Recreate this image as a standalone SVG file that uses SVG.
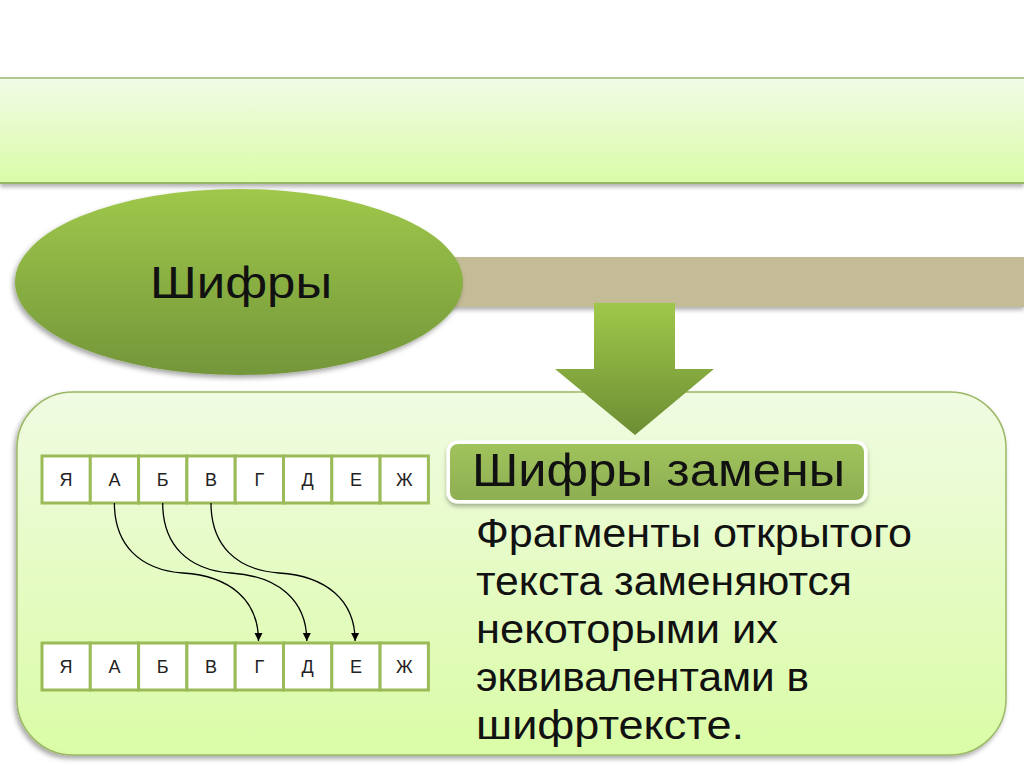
<svg xmlns="http://www.w3.org/2000/svg" width="1024" height="767" viewBox="0 0 1024 767">
<defs>
<linearGradient id="bandG" x1="0" y1="0" x2="0" y2="1"><stop offset="0" stop-color="#f2fbe7"/><stop offset="1" stop-color="#d9fca6"/></linearGradient>
<linearGradient id="panelG" x1="0" y1="0" x2="0" y2="1"><stop offset="0" stop-color="#f0fbe2"/><stop offset="1" stop-color="#dafca6"/></linearGradient>
<linearGradient id="greenG" x1="0" y1="0" x2="0" y2="1"><stop offset="0" stop-color="#9fc84b"/><stop offset="1" stop-color="#74963a"/></linearGradient>
<linearGradient id="arrowG" x1="0" y1="0" x2="0" y2="1"><stop offset="0" stop-color="#9fc84a"/><stop offset="1" stop-color="#6d8d34"/></linearGradient>
<linearGradient id="titleG" x1="0" y1="0" x2="0" y2="1"><stop offset="0" stop-color="#a0c35c"/><stop offset="1" stop-color="#8eae52"/></linearGradient>
<filter id="sh" x="-10%" y="-10%" width="125%" height="130%"><feDropShadow dx="-2" dy="3" stdDeviation="2.5" flood-color="#000" flood-opacity="0.35"/></filter>
<filter id="sh2" x="-10%" y="-20%" width="120%" height="150%"><feDropShadow dx="0" dy="3" stdDeviation="2" flood-color="#000" flood-opacity="0.3"/></filter>
<marker id="ah" markerWidth="8" markerHeight="10" refX="8" refY="5" orient="auto" markerUnits="userSpaceOnUse"><path d="M0,1 L8,5 L0,9 Z" fill="#000"/></marker>
<style>
.cell{fill:#fff;stroke:#9bbb59;stroke-width:3}
.lt{font-family:"Liberation Sans",Arial,sans-serif;font-size:18px;fill:#222;text-anchor:middle}
.body{font-family:"Liberation Sans",Arial,sans-serif;font-size:40px;fill:#111}
.con{fill:none;stroke:#000;stroke-width:1.3}
</style>
</defs>
<rect width="1024" height="767" fill="#fff"/>
<g id="band">
<rect x="0" y="78" width="1024" height="106" fill="url(#bandG)" filter="url(#sh2)"/>
<line x1="0" y1="78" x2="1024" y2="78" stroke="#b2c894" stroke-width="2"/>
<line x1="0" y1="183" x2="1024" y2="183" stroke="#98b568" stroke-width="2"/>
</g>
<g id="bar"><rect x="430" y="257" width="594" height="50" fill="#c4bc96" filter="url(#sh2)"/></g>
<g id="panel"><rect x="17" y="392" width="989" height="363" rx="56" ry="56" fill="url(#panelG)" stroke="#9bb866" stroke-width="1.5" filter="url(#sh)"/></g>
<g id="arrow"><path d="M594,303 L675,303 L675,369 L714,369 L635,435 L555,369 L594,369 Z" fill="url(#arrowG)"/></g>
<g id="ellipse">
<ellipse cx="239" cy="282" rx="224" ry="93" fill="url(#greenG)" filter="url(#sh)"/>
<text x="241" y="298" text-anchor="middle" font-family="Liberation Sans, Arial, sans-serif" font-size="44" fill="#111" textLength="182" lengthAdjust="spacingAndGlyphs">Шифры</text>
</g>
<g id="title">
<rect x="446.5" y="440.5" width="421" height="63" rx="11" fill="#fff" filter="url(#sh2)"/>
<rect x="450" y="444" width="414" height="56" rx="8" fill="url(#titleG)"/>
<text x="472" y="486" font-family="Liberation Sans, Arial, sans-serif" font-size="46" fill="#111" textLength="373" lengthAdjust="spacingAndGlyphs">Шифры замены</text>
</g>
<g id="description" class="body">
<text x="476" y="547" textLength="436" lengthAdjust="spacingAndGlyphs">Фрагменты открытого</text>
<text x="476" y="595" textLength="376" lengthAdjust="spacingAndGlyphs">текста заменяются</text>
<text x="476" y="643" textLength="302" lengthAdjust="spacingAndGlyphs">некоторыми их</text>
<text x="476" y="691" textLength="333" lengthAdjust="spacingAndGlyphs">эквивалентами в</text>
<text x="476" y="739" textLength="268" lengthAdjust="spacingAndGlyphs">шифртексте.</text>
</g>
<g id="row-top">
<rect class="cell" x="42" y="456" width="48.3" height="47"/>
<rect class="cell" x="90.3" y="456" width="48.3" height="47"/>
<rect class="cell" x="138.6" y="456" width="48.3" height="47"/>
<rect class="cell" x="186.9" y="456" width="48.3" height="47"/>
<rect class="cell" x="235.2" y="456" width="48.3" height="47"/>
<rect class="cell" x="283.5" y="456" width="48.3" height="47"/>
<rect class="cell" x="331.8" y="456" width="48.3" height="47"/>
<rect class="cell" x="380.1" y="456" width="48.3" height="47"/>
<text class="lt" x="66" y="486">Я</text>
<text class="lt" x="114.4" y="486">А</text>
<text class="lt" x="162.7" y="486">Б</text>
<text class="lt" x="211" y="486">В</text>
<text class="lt" x="259.3" y="486">Г</text>
<text class="lt" x="307.6" y="486">Д</text>
<text class="lt" x="355.9" y="486">Е</text>
<text class="lt" x="404.2" y="486">Ж</text>
</g>
<g id="row-bottom">
<rect class="cell" x="42" y="643" width="48.3" height="47"/>
<rect class="cell" x="90.3" y="643" width="48.3" height="47"/>
<rect class="cell" x="138.6" y="643" width="48.3" height="47"/>
<rect class="cell" x="186.9" y="643" width="48.3" height="47"/>
<rect class="cell" x="235.2" y="643" width="48.3" height="47"/>
<rect class="cell" x="283.5" y="643" width="48.3" height="47"/>
<rect class="cell" x="331.8" y="643" width="48.3" height="47"/>
<rect class="cell" x="380.1" y="643" width="48.3" height="47"/>
<text class="lt" x="66" y="673">Я</text>
<text class="lt" x="114.4" y="673">А</text>
<text class="lt" x="162.7" y="673">Б</text>
<text class="lt" x="211" y="673">В</text>
<text class="lt" x="259.3" y="673">Г</text>
<text class="lt" x="307.6" y="673">Д</text>
<text class="lt" x="355.9" y="673">Е</text>
<text class="lt" x="404.2" y="673">Ж</text>
</g>
<g id="connectors">
<path class="con" marker-end="url(#ah)" d="M114.4,503 C114.4,545 140,570 183,573 C230,576 258.5,600 258.5,641"/>
<path class="con" marker-end="url(#ah)" d="M162.7,503 C162.7,545 188,570 231,573 C278,576 306.8,600 306.8,641"/>
<path class="con" marker-end="url(#ah)" d="M211,503 C211,545 236,570 279,573 C326,576 355.1,600 355.1,641"/>
</g>
</svg>
